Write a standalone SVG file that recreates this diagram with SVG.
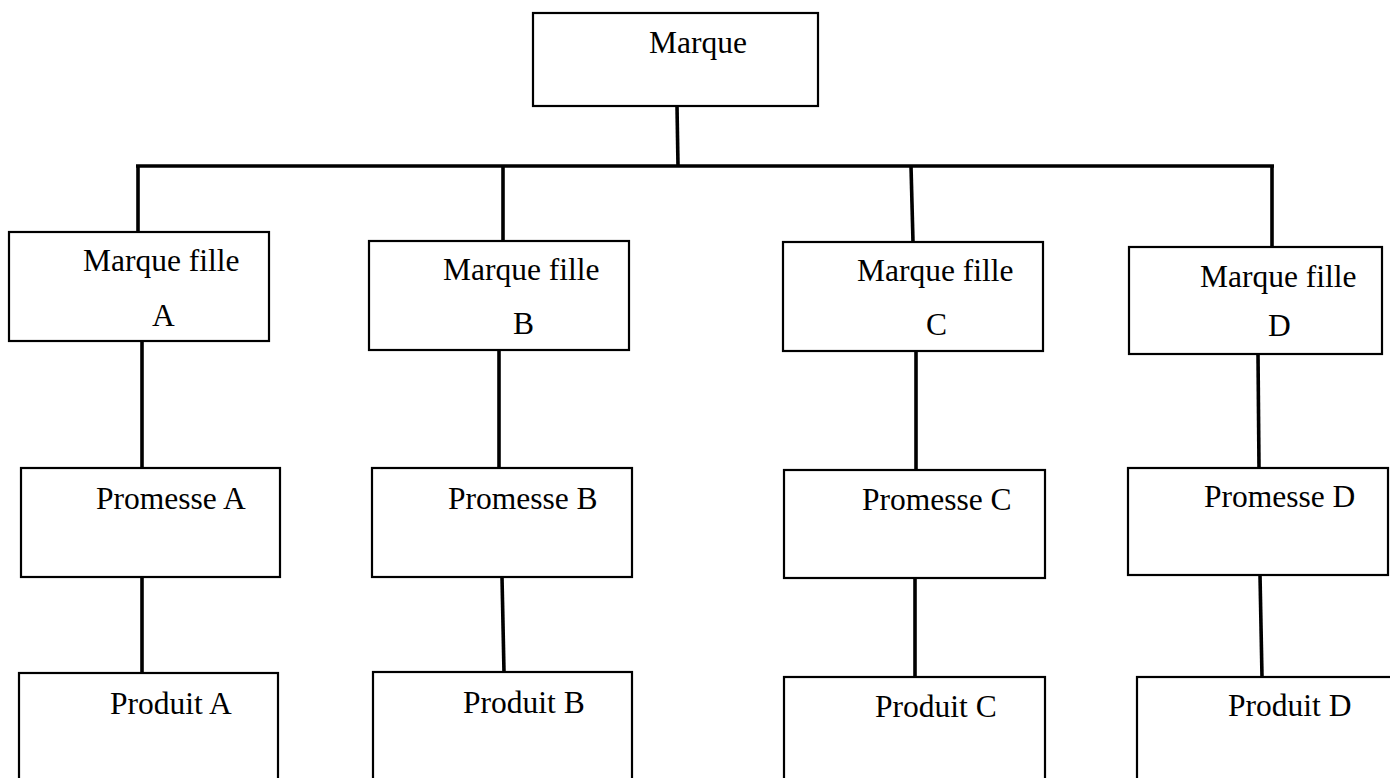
<svg xmlns="http://www.w3.org/2000/svg" width="1390" height="778" viewBox="0 0 1390 778">
  <style>
    .box { fill: #ffffff; stroke: #000000; stroke-width: 2.2; }
    .lbl { font-family: "Liberation Serif", "Times New Roman", serif; font-size: 31.5px; fill: #000000; }
    .wire { fill: none; stroke: #000000; stroke-width: 3.6; stroke-linecap: butt; }
  </style>
  <rect width="1390" height="778" fill="#ffffff"/>

  <!-- connectors -->
  <g id="connectors">
    <path class="wire" d="M677 106 L678 166"/>
    <path class="wire" d="M136 166 L1274 166"/>
    <path class="wire" d="M138 166 L138 232"/>
    <path class="wire" d="M503 166 L503 241"/>
    <path class="wire" d="M911 166 L913 242"/>
    <path class="wire" d="M1272 166 L1272 247"/>
    <path class="wire" d="M142 341 L142 468"/>
    <path class="wire" d="M499 350 L499 468"/>
    <path class="wire" d="M916 351 L916 470"/>
    <path class="wire" d="M1258 354 L1259 468"/>
    <path class="wire" d="M142 577 L142 673"/>
    <path class="wire" d="M502 577 L504 672"/>
    <path class="wire" d="M915 578 L915 677"/>
    <path class="wire" d="M1260 575 L1262 677"/>
  </g>

  <!-- root -->
  <g id="marque">
    <rect class="box" x="533" y="13" width="285" height="93"/>
    <text class="lbl" x="649" y="53">Marque</text>
  </g>

  <!-- daughter brands -->
  <g id="fille-a">
    <rect class="box" x="9" y="232" width="260" height="109"/>
    <text class="lbl" x="83" y="271">Marque fille</text>
    <text class="lbl" x="152" y="326">A</text>
  </g>
  <g id="fille-b">
    <rect class="box" x="369" y="241" width="260" height="109"/>
    <text class="lbl" x="443" y="280">Marque fille</text>
    <text class="lbl" x="513" y="334">B</text>
  </g>
  <g id="fille-c">
    <rect class="box" x="783" y="242" width="260" height="109"/>
    <text class="lbl" x="857" y="281">Marque fille</text>
    <text class="lbl" x="926" y="335">C</text>
  </g>
  <g id="fille-d">
    <rect class="box" x="1129" y="247" width="253" height="107"/>
    <text class="lbl" x="1200" y="287">Marque fille</text>
    <text class="lbl" x="1268" y="336">D</text>
  </g>

  <!-- promises -->
  <g id="promesse-a">
    <rect class="box" x="21" y="468" width="259" height="109"/>
    <text class="lbl" x="96" y="509">Promesse A</text>
  </g>
  <g id="promesse-b">
    <rect class="box" x="372" y="468" width="260" height="109"/>
    <text class="lbl" x="448" y="509">Promesse B</text>
  </g>
  <g id="promesse-c">
    <rect class="box" x="784" y="470" width="261" height="108"/>
    <text class="lbl" x="862" y="510">Promesse C</text>
  </g>
  <g id="promesse-d">
    <rect class="box" x="1128" y="468" width="260" height="107"/>
    <text class="lbl" x="1204" y="507">Promesse D</text>
  </g>

  <!-- products -->
  <g id="produit-a">
    <rect class="box" x="19" y="673" width="259" height="120"/>
    <text class="lbl" x="110" y="714">Produit A</text>
  </g>
  <g id="produit-b">
    <rect class="box" x="373" y="672" width="259" height="120"/>
    <text class="lbl" x="463" y="713">Produit B</text>
  </g>
  <g id="produit-c">
    <rect class="box" x="784" y="677" width="261" height="120"/>
    <text class="lbl" x="875" y="717">Produit C</text>
  </g>
  <g id="produit-d">
    <rect class="box" x="1137" y="677" width="270" height="120"/>
    <text class="lbl" x="1228" y="716">Produit D</text>
  </g>
</svg>
